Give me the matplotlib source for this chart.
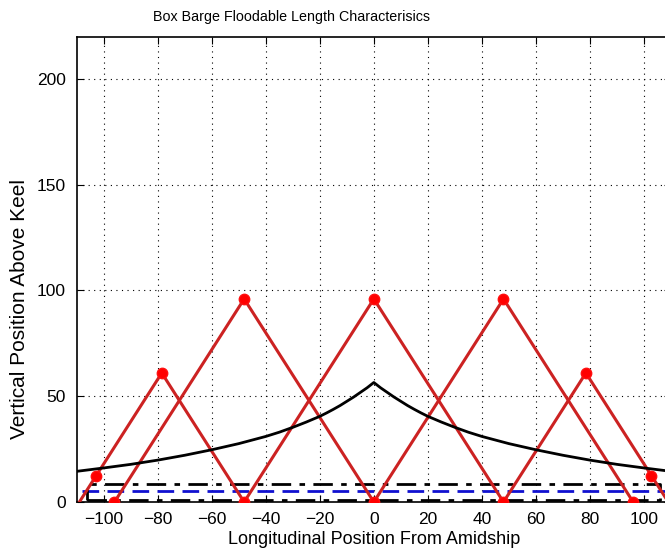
import matplotlib
matplotlib.use("Agg")
import matplotlib.pyplot as plt

plt.rcParams["font.family"] = ["Liberation Sans", "DejaVu Sans"]

# floodable length curve (symmetric about amidships)
half_x = [0, 2.5, 5, 7.5, 10, 12.5, 15, 17.5, 20, 25, 30, 35, 40, 50, 60, 70, 80, 90, 100, 110]
half_y = [56.5, 54, 51.8, 49.6, 47.6, 45.6, 43.8, 42.1, 40.5, 37.8, 35.3, 33, 31,
          27.6, 24.7, 22.1, 19.8, 17.8, 16.1, 14.5]
curve_x = [-v for v in half_x[::-1]] + half_x[1:]
curve_y = half_y[::-1] + half_y[1:]

# compartment triangles: (aft end, fwd end), apex height = compartment length
comp_aft = [-109, -96, -48, 0, 48]
comp_fwd = [-48, 0, 48, 96, 109]

# marked points on the triangles
mark_x = [-102.75, -78.5, -96, -48, -48, 0, 0, 48, 48, 96, 78.5, 102.75]
mark_y = [12.5, 61, 0, 96, 0, 96, 0, 96, 0, 0, 61, 12.5]

# waterline / hull outline
wl_draft = 5.4
hull_x = [-106, 106]
hull_y = [0.8, 8.4]
ship_x = [-108, 108]

fig = plt.figure(figsize=(6.65, 5.56), dpi=100)
ax = fig.add_axes([0.1153, 0.0971, 0.8937, 0.837])

red_line = "#cc2222"
for a, f in zip(comp_aft, comp_fwd):
    L = f - a
    ax.plot([a, (a + f) / 2, f], [0, L, 0], color=red_line, lw=2.2, zorder=3)
ax.plot(mark_x, mark_y, "o", color="#ff0000", ms=7.5, mec="#ff1010", zorder=4, ls="none")

ax.plot(curve_x, curve_y, color="black", lw=2, zorder=3)

ax.plot(ship_x, [wl_draft, wl_draft], color="#1010d0", lw=2, ls=(0, (6, 3)), zorder=2)
x0, x1 = hull_x
y0, y1 = hull_y
ax.plot([x0, x1, x1, x0, x0], [y0, y0, y1, y1, y0], color="black", lw=2,
        ls=(0, (7, 3, 2, 3)), zorder=2)

ax.set_xlim(-110, 110)
ax.set_ylim(0, 220)
ax.set_xticks(range(-100, 101, 20))
ax.set_yticks(range(0, 201, 50))
ax.grid(True, color="black", ls=(0, (1, 4)), lw=0.8)
ax.tick_params(direction="in", labelsize=12.5, length=5, top=True, right=True)
ax.tick_params(axis="x", pad=7)
ax.tick_params(axis="y", pad=8)
for s in ax.spines.values():
    s.set_linewidth(1.2)

fig.text(291.5 / 665, 1 - 17 / 556, "Box Barge Floodable Length Characterisics",
         ha="center", va="center", fontsize=10.3)
fig.text(374 / 665, 1 - 540 / 556, "Longitudinal Position From Amidship",
         ha="center", va="center", fontsize=13)
fig.text(20 / 665, 1 - 309 / 556, "Vertical Position Above Keel",
         ha="center", va="center", rotation=90, fontsize=15)

fig.savefig("out.png", dpi=100)
